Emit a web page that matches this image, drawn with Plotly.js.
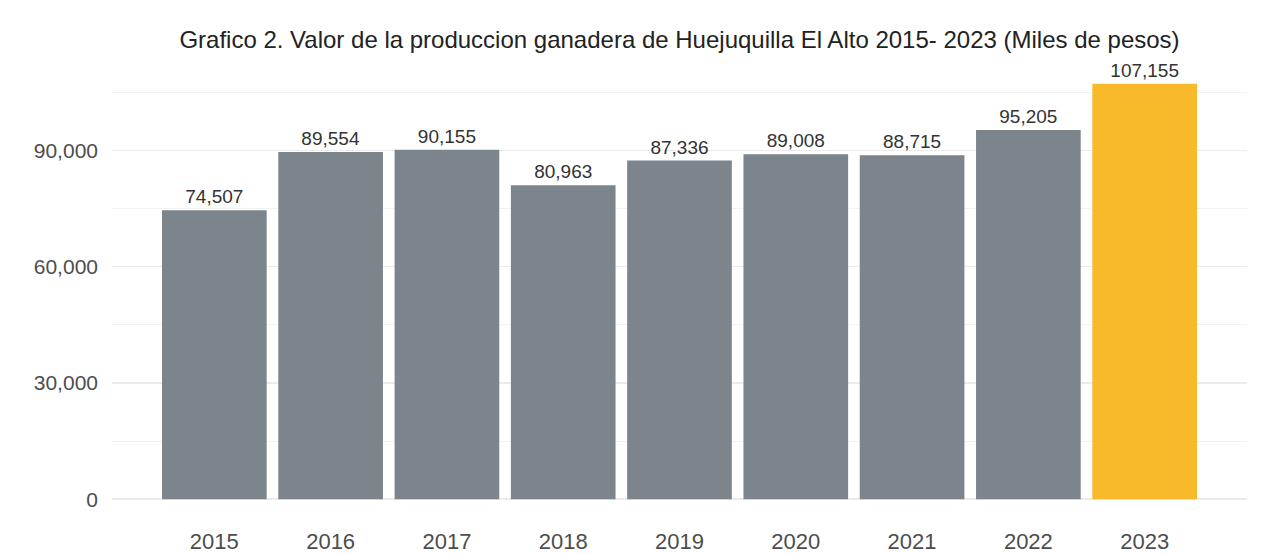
<!DOCTYPE html>
<html>
<head>
<meta charset="utf-8">
<script src="https://cdn.plot.ly/plotly-3.0.1.min.js"></script>
<style>html,body{margin:0;padding:0;background:#fff;}#chart{width:1261px;height:554px;}</style>
</head>
<body>
<div id="chart"></div>
<script>
const years = ["2015","2016","2017","2018","2019","2020","2021","2022","2023"];
const values = [74507, 89554, 90155, 80963, 87336, 89008, 88715, 95205, 107155];
const barColors = ["#7b858b","#7b858b","#7b858b","#7b858b","#7b858b","#7b858b","#7b858b","#7b858b","#f8b92a"];
const titleText = "Grafico 2. Valor de la produccion ganadera de Huejuquilla El Alto 2015- 2023 (Miles de pesos)";

const fmt = v => v.toLocaleString("en-US");

const trace = {
  type: "bar",
  x: years,
  y: values,
  marker: {color: barColors, line: {width: 0}},
  text: values.map(fmt),
  textposition: "outside",
  textfont: {family: "Liberation Sans, Arial, sans-serif", size: 19, color: "#333333"},
  cliponaxis: false,
  hoverinfo: "none"
};

const layout = {
  width: 1261,
  height: 554,
  margin: {l: 112, r: 14, t: 63, b: 34},
  paper_bgcolor: "#ffffff",
  plot_bgcolor: "#ffffff",
  bargap: 0.1,
  showlegend: false,
  font: {family: "Liberation Sans, Arial, sans-serif", color: "#4d4d4d"},
  title: {
    text: titleText,
    font: {family: "Liberation Sans, Arial, sans-serif", size: 24, color: "#222222"},
    x: 0.5, xanchor: "center", xref: "paper",
    y: 1 - 40/554, yanchor: "middle", yref: "container"
  },
  xaxis: {
    type: "category",
    range: [-0.88, 8.88],
    showgrid: false,
    zeroline: false,
    showline: false,
    ticks: "",
    tickfont: {size: 22, color: "#4d4d4d"},
    ticklabelstandoff: 6
  },
  yaxis: {
    range: [-5357, 112513],
    dtick: 30000,
    tick0: 0,
    tickformat: ",d",
    showgrid: true,
    gridcolor: "#ebebeb",
    gridwidth: 1.5,
    zeroline: false,
    showline: false,
    ticks: "",
    tickfont: {size: 21, color: "#4d4d4d"},
    ticklabelstandoff: 13,
    minor: {dtick: 15000, tick0: 0, showgrid: true, gridcolor: "#f2f2f2", gridwidth: 1}
  }
};

Plotly.newPlot("chart", [trace], layout, {displayModeBar: false, staticPlot: true});
</script>
</body>
</html>
